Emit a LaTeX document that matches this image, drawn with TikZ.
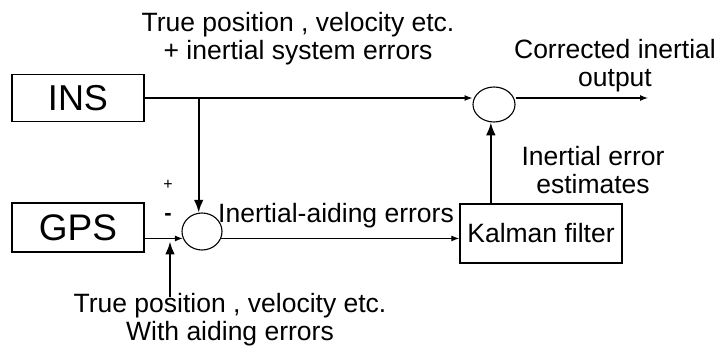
\documentclass[tikz,border=0pt]{standalone}
\usepackage{fontspec}
\setmainfont{Liberation Sans}
\usetikzlibrary{arrows.meta,positioning,shapes.geometric}
\tikzset{
  blockbox/.style={draw,line width=1.4pt,inner sep=0pt},
  sumnode/.style={draw,ellipse,line width=1.1pt,inner sep=0pt},
  lbl/.style={font=\fontsize{26.5}{28}\selectfont,align=center,inner sep=0pt},
  flow/.style={->,line width=1.1pt},
  feed/.style={->,line width=2.2pt}
}

\begin{document}
\begin{tikzpicture}[x=1pt,y=-1pt,>=Latex]
\useasboundingbox (0,0) rectangle (719,347);
% blocks
\node[blockbox,minimum width=132pt,minimum height=47pt,font=\fontsize{36}{40}\selectfont] (ins) at (78,98) {INS};
\node[blockbox,minimum width=132pt,minimum height=49pt,font=\fontsize{37}{40}\selectfont] (gps) at (78,227.5) {GPS};
\node[blockbox,minimum width=162pt,minimum height=59pt,font=\fontsize{26.5}{28}\selectfont] (kalman) at (541,233.5) {Kalman filter};
\node[sumnode,minimum width=42pt,minimum height=35pt] (sumtop) at (494,104.5) {};
\node[sumnode,minimum width=40pt,minimum height=37pt] (sumlow) at (202,231.5) {};
% labels
\node[lbl] (inslbl) at (298,39) {True position , velocity etc.\\+ inertial system errors};
\node[lbl] (outlbl) at (615,66) {Corrected inertial\\output};
\node[lbl] (estlbl) at (593,170) {Inertial error\\estimates};
\node[lbl] (aidlbl) at (336,216) {Inertial-aiding errors};
\node[lbl] (gpslbl) at (230,320) {True position , velocity etc.\\With aiding errors};
\node[font=\fontsize{16}{18}\selectfont] (plus) at (168,185) {+};
\node[font=\bfseries\fontsize{22}{24}\selectfont] (minus) at (168,217) {-};
\coordinate (out) at (648,98);
\coordinate (aidsrc) at (170,297);
% connectors
\draw[flow] (ins.east) -- (ins.east -| sumtop.west);
\draw[flow] (sumtop.east |- ins.east) -- (out);
\draw[feed] (ins.east -| sumlow.100) -- (sumlow.100);
\draw[flow] (gps.east |- sumlow.200) -- (sumlow.200);
\draw[feed,shorten >=3pt] (aidsrc) -- (aidsrc |- sumlow.200);
\draw[flow] (sumlow.-20) -- (sumlow.-20 -| kalman.west);
\draw[feed] (kalman.north -| sumtop.260) -- (sumtop.260);
\end{tikzpicture}
\end{document}
